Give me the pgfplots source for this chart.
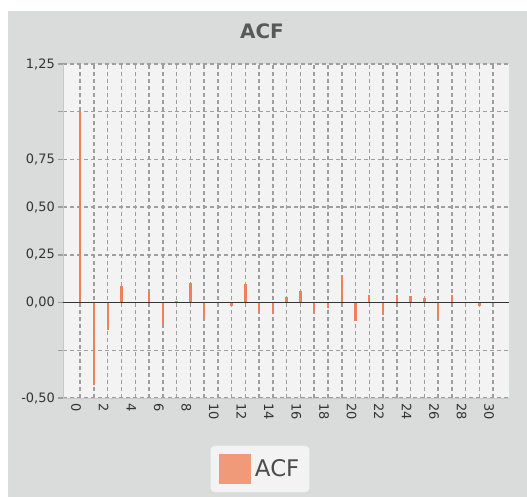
\documentclass[border=0pt]{standalone}
\usepackage{fontspec}
\setmainfont{DejaVu Sans}
\usepackage{pgfplots}
\pgfplotsset{compat=1.18}
\definecolor{outerbg}{RGB}{217,220,219}
\definecolor{plotbg}{RGB}{243,243,243}
\definecolor{barc}{RGB}{240,128,92}
\definecolor{legsq}{RGB}{240,154,122}
\definecolor{gridc}{RGB}{158,158,158}
\begin{document}
\begin{tikzpicture}
\path[use as bounding box, fill=white] (-63bp,-99bp) rectangle (464bp,398bp);
\fill[outerbg] (-55bp,-99bp) rectangle (464bp,387bp);
\node[font=\bfseries\fontsize{20}{20}\selectfont, text=black!65] at (199bp,367bp) {ACF};
\begin{axis}[
  at={(0,0)}, anchor=south west, scale only axis,
  width=446bp, height=334bp,
  xmin=-1.25, xmax=31.15, ymin=-0.5, ymax=1.25,
  axis background/.style={fill=plotbg},
  axis lines*=left,
  axis line style={draw=black!22, line width=1bp},
  /pgf/number format/assume math mode=true,
  xtick={0,2,...,30},
  minor xtick={1,3,...,29},
  ytick={-0.5,-0.25,0,0.25,0.5,0.75,1,1.25},
  yticklabels={{-0,50},{},{0,00},{0,25},{0,50},{0,75},{},{1,25}},
  xticklabel style={rotate=-90, anchor=west, inner sep=0pt, xshift=0bp, yshift=-4bp},
  yticklabel style={inner sep=0pt, xshift=-3bp},
  tick label style={font=\fontsize{13}{13}\selectfont, text=black!80},
  xtick style={draw=none},
  minor x tick style={draw=none},
  ytick style={draw=gridc, line width=1.4bp},
  tick align=outside,
  major tick length=5bp,
  grid=both,
  major grid style={draw=gridc, line width=1.5bp, dash pattern=on 4bp off 3bp},
  minor grid style={draw=gridc, line width=1.5bp, dash pattern=on 4bp off 3bp},
  legend style={at={(0.4417,-0.2126)}, anchor=center, fill=plotbg, draw=white!80!gray,
    rounded corners=4bp, font=\fontsize{23}{23}\selectfont, text=black!70,
    inner xsep=8bp, inner ysep=8bp,
    /tikz/every odd column/.append style={column sep=2bp}},
  legend image code/.code={\fill[legsq, sharp corners] (0bp,-14bp) rectangle (30bp,14bp);},
]
\addplot[ycomb, no marks, draw=barc, line width=2.4bp] coordinates {
(0,1.0) (1,-0.433) (2,-0.144) (3,0.088) (4,0.003) (5,0.055) (6,-0.112) (7,0.01)
(8,0.105) (9,-0.079) (10,0.002) (11,-0.017) (12,0.097) (13,-0.051) (14,-0.06)
(15,0.028) (16,0.061) (17,-0.056) (18,-0.03) (19,0.14) (20,-0.097) (21,0.04)
(22,-0.067) (23,0.038) (24,0.032) (25,0.026) (26,-0.08) (27,0.038) (28,0.001)
(29,-0.02) (30,0.001)
};
\addlegendentry{ACF}
\addplot[forget plot, draw=black!80, line width=1.3bp] coordinates {(-1.25,0) (31.15,0)};
\end{axis}
\end{tikzpicture}
\end{document}
